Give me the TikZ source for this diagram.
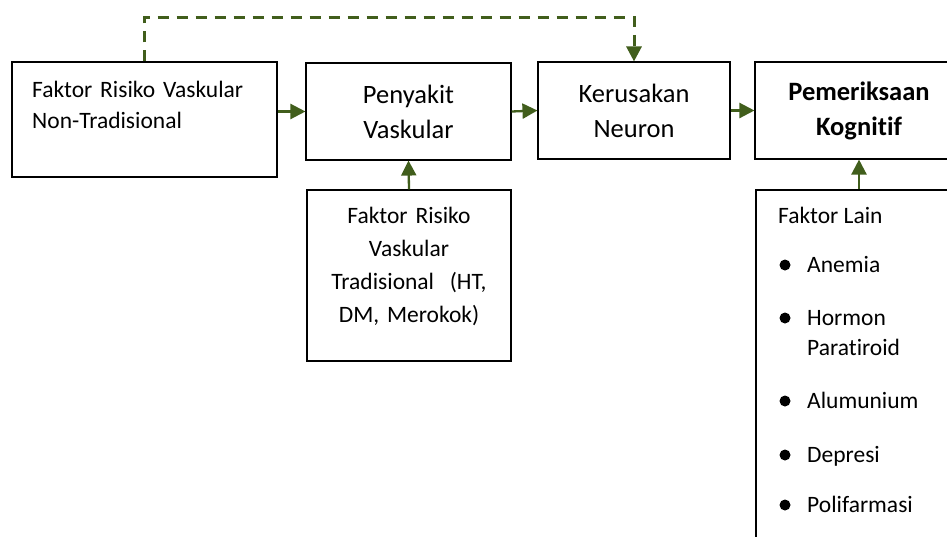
\documentclass[tikz,border=0pt]{standalone}
\usepackage{fontspec}
\setmainfont{Carlito}[Ligatures=NoCommon]
\usetikzlibrary{arrows.meta}
\definecolor{leafgreen}{HTML}{415E1C}
\begin{document}
\begin{tikzpicture}[x=1pt,y=-1pt]
  \tikzstyle{block}=[draw=black,line width=1.1pt,inner sep=0pt,align=center,font=\fontsize{26.5}{35}\selectfont]
  \tikzstyle{note}=[inner sep=0pt,font=\fontsize{23.5}{33}\selectfont]
  \tikzstyle{link}=[draw=leafgreen,line width=2.3pt,-{Triangle[length=15pt,width=15pt]}]
  \useasboundingbox (0,0) rectangle (947,536);
  % boxes
  \node [block,minimum width=265pt,minimum height=115pt] (nontrad) at (144.5,119.5) {};
  \node [block,minimum width=205pt,minimum height=97pt] (vaskular) at (408.5,111.5) {Penyakit\\Vaskular};
  \node [block,minimum width=192pt,minimum height=97pt] (neuron) at (634,110.5) {Kerusakan\\Neuron};
  \node [block,minimum width=208pt,minimum height=97pt,font=\fontsize{26.5}{35}\selectfont\bfseries] (kognitif) at (859,110.5) {Pemeriksaan\\Kognitif};
  \node [block,minimum width=204pt,minimum height=171pt] (trad) at (409,275.5) {};
  \node [block,minimum width=206pt,minimum height=370pt] (lain) at (859,375) {};
  % texts
  \node [note,text width=240pt,align=left,anchor=base west,font=\fontsize{23.5}{31}\selectfont] (nontrad-txt) at (32,97) {Faktor Risiko Vaskular\\Non-Tradisional};
  \node [note,text width=200pt,align=center,anchor=base] (trad-txt) at (409,223) {Faktor Risiko\\Vaskular\\Tradisional\ \ (HT,\\DM, Merokok)};
  \node [note,anchor=base west] (lain-txt) at (778,223) {Faktor Lain};
  \foreach \y/\t in {272/Anemia,325/Hormon,408/Alumunium,462/Depresi,512/Polifarmasi}{
    \fill (785,\y-7) circle (5.5pt);
    \node [note,anchor=base west] (item\y) at (807,\y) {\t};
  }
  \node [note,anchor=base west] (item355) at (807,355) {Paratiroid};
  % arrows
  \path[link] (nontrad.east |- vaskular.west) -- (vaskular.west);
  \path[link] (vaskular.east) -- (neuron.west);
  \path[link] (neuron.east) -- (kognitif.west);
  \path[link] (trad.north) -- (vaskular.south);
  \path[link] (lain.north) -- (kognitif.south);
  \path[link,line width=3pt,dash pattern=on 11pt off 8pt] (nontrad.north) -- ++(0,-44) -| (neuron.north);
\end{tikzpicture}
\end{document}
